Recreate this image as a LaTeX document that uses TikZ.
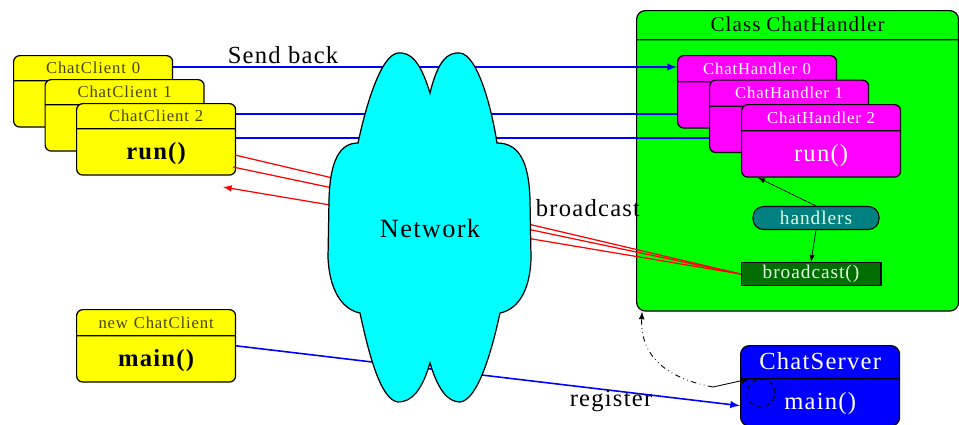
\documentclass[tikz,border=0pt]{standalone}
\usepackage{fontspec}
\setmainfont{Liberation Serif}[LetterSpace=5]
\usepackage{tikz}
\usetikzlibrary{calc,positioning,shapes.multipart}

\definecolor{olivetext}{RGB}{70,70,0}
\definecolor{tealfill}{RGB}{0,128,128}
\definecolor{darkgreenfill}{RGB}{0,110,0}
\definecolor{paletext}{RGB}{225,255,225}
\definecolor{cloudcyan}{RGB}{0,255,255}
\definecolor{boxyellow}{RGB}{255,255,0}
\definecolor{boxmagenta}{RGB}{255,0,255}
\definecolor{boxgreen}{RGB}{0,255,0}
\definecolor{boxblue}{RGB}{0,0,255}
\definecolor{linered}{RGB}{255,0,0}

\newcommand{\partrow}[2]{\rule[-#2]{0pt}{#1}}
\newcommand{\headfont}{\fontsize{9.5}{11}\selectfont}
\newcommand{\bodyfont}{\fontsize{14}{16}\selectfont}

\tikzset{
  classbox/.style={rectangle split, rectangle split parts=2, draw=black, line width=0.7pt,
    rounded corners=3.5pt, inner sep=0pt, text width=3.18cm, align=center, anchor=north west},
  client/.style={classbox, fill=boxyellow},
  handler/.style={classbox, fill=boxmagenta, text=white},
  member/.style={draw=black, line width=0.6pt, inner sep=0pt, minimum height=0.46cm,
    font=\fontsize{11}{13}\selectfont},
  link/.style={boxblue, line width=0.9pt},
  bcast/.style={linered, line width=0.7pt},
  biglabel/.style={font=\fontsize{14}{16}\selectfont},
}

\begin{document}
\begin{tikzpicture}[x=0.02cm, y=-0.02cm]
        \useasboundingbox (0,0) rectangle (959,424);

        % Class ChatHandler
        \node[classbox, fill=boxgreen, text width=6.44cm, rounded corners=5pt] (chc) at (636,10)
          {\fontsize{12}{14}\selectfont\partrow{0.56cm}{0.16cm}Class ChatHandler\nodepart{two}\partrow{5.4cm}{0cm}};

        % Handler objects
        \foreach \i/\b in {0/,1/,2/run()}
          \node[handler] (ch\i) at ({677+32*\i},{55+24.5*\i})
            {\headfont\partrow{0.5cm}{0.14cm}ChatHandler \i\nodepart{two}\bodyfont\partrow{0.9cm}{0.3cm}\b};
        \node[member, fill=tealfill, text=paletext, rounded corners=6pt, minimum width=2.52cm] (hl) at (816,218) {handlers};
        \node[member, fill=darkgreenfill, text=paletext, minimum width=2.8cm] (bc) at (811,274) {broadcast()};

        % Client objects
        \foreach \i/\b in {0/,1/,2/run()}
          \node[client] (cc\i) at ({13+31.5*\i},{55+24*\i})
            {\headfont\color{olivetext}\partrow{0.48cm}{0.13cm}ChatClient \i\nodepart{two}\bodyfont\bfseries\partrow{0.9cm}{0.3cm}\b};
        \node[client] (nc) at (76,309)
          {\headfont\color{olivetext}\partrow{0.5cm}{0.14cm}new ChatClient\nodepart{two}\bodyfont\bfseries\partrow{0.9cm}{0.3cm}main()};

        % Server
        \node[classbox, fill=boxblue, text=white, rounded corners=5pt] (cs) at (740,345)
          {\bodyfont\partrow{0.64cm}{0.18cm}ChatServer\nodepart{two}\bodyfont\partrow{0.92cm}{0.32cm}main()};

        % Send back lines
        \coordinate (b1) at ([yshift=-0.22cm]cc2.north east);
        \coordinate (b2) at ([yshift=0.03cm]cc2.east);
        \draw[link, -latex] ([yshift=-0.24cm]cc0.north east) -- ([yshift=-0.24cm]ch0.north west);
        \draw[link] (b1) -- (b1 -| ch0.west);
        \draw[link] (b2) -- (b2 -| ch1.west);

        % Broadcast lines
        \coordinate (r1) at (235,155);
        \coordinate (r2) at (233,167);
        \coordinate (r3) at (223,187);
        \draw[bcast] (bc.west) -- (r1);
        \draw[bcast] (bc.west) -- (r2);
        \draw[bcast, -latex] (bc.west) -- (r3);

        % Register line
        \draw[link, -latex] (nc.east) -- ([yshift=0.42cm]cs.south west);

        % Network cloud
        \draw[fill=cloudcyan, line width=0.7pt]
          (430,93) .. controls (420,60) and (410,52) .. (398,53)
          .. controls (380,55) and (365,110) .. (358,143)
          .. controls (340,143) and (330,160) .. (329,200) -- (328,258)
          .. controls (330,295) and (345,310) .. (360,313)
          .. controls (368,350) and (380,400) .. (398,402)
          .. controls (412,402) and (422,390) .. (430,363)
          .. controls (438,390) and (448,402) .. (460,402)
          .. controls (478,400) and (492,350) .. (500,313)
          .. controls (515,310) and (530,295) .. (531,258) -- (530,200)
          .. controls (529,160) and (518,143) .. (497,143)
          .. controls (492,110) and (478,55) .. (460,53)
          .. controls (448,52) and (438,60) .. (430,93) -- cycle;
        \node[font=\fontsize{15}{17}\selectfont] (net) at (430,228) {Network};

        % Labels
        \node[biglabel] (sendlbl) at (283,55) {Send back};
        \node[biglabel] (bclbl) at (588,208) {broadcast};
        \node[biglabel] (reglbl) at (611,401) {register};

        % Inside ChatHandler
        \draw[-latex] (hl.north) -- ([xshift=0.34cm]ch2.south west);
        \draw[-latex] (hl.south) -- (bc.north);

        % Server creates handlers, main loop
        \coordinate (srv) at (713,387);
        \coordinate (lpin) at (749,379);
        \coordinate (lp) at (761,393);
        \draw[dash dot dot, line width=0.5pt, -latex] (srv) .. controls (665,378) and (640,355) .. ([xshift=0.12cm]chc.south west);
        \draw[line width=0.5pt, -latex] (srv) -- (lpin);
        \draw[densely dashed, line width=0.5pt] (lp) circle (0.28cm);

\end{tikzpicture}
\end{document}
